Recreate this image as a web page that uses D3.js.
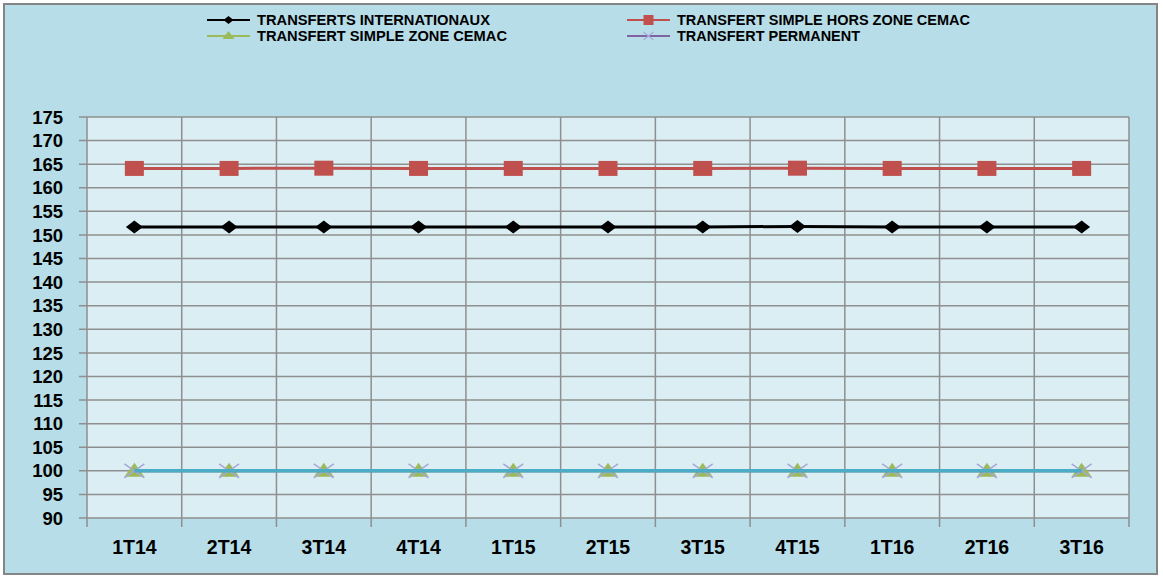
<!DOCTYPE html>
<html><head><meta charset="utf-8">
<script src="https://cdn.jsdelivr.net/npm/d3@7"></script>
<style>body{margin:0;background:#fff;} svg{display:block;font-family:"Liberation Sans",Arial,sans-serif;}</style>
</head><body>
<svg id="c" width="1163" height="577"></svg>
<script>
const categories = ["1T14","2T14","3T14","4T14","1T15","2T15","3T15","4T15","1T16","2T16","3T16"];
const transfertsInternationaux = [151.7,151.7,151.7,151.7,151.7,151.7,151.7,151.8,151.7,151.7,151.7];
const transfertSimpleHorsZone = [164.1,164.1,164.15,164.1,164.1,164.1,164.1,164.15,164.1,164.1,164.1];
const transfertSimpleZone = [100,100,100,100,100,100,100,100,100,100,100];
const transfertPermanent = [100,100,100,100,100,100,100,100,100,100,100];
const autreSerie = [100,100,100,100,100,100,100,100,100,100,100];
const yTicks = [90,95,100,105,110,115,120,125,130,135,140,145,150,155,160,165,170,175];
const legendLabels = ["TRANSFERTS INTERNATIONAUX","TRANSFERT SIMPLE HORS ZONE CEMAC","TRANSFERT SIMPLE ZONE CEMAC","TRANSFERT PERMANENT"];

const svg = d3.select("#c");
svg.append("rect").attr("x",4).attr("y",4).attr("width",1153).attr("height",570)
  .attr("fill","#b7dde8").attr("stroke","#858585").attr("stroke-width",2);

const L=87,R=1129,T=117,B=518;
const x = d3.scaleBand().domain(categories).range([L,R]);
const y = d3.scaleLinear().domain([90,175]).range([B,T]);

svg.append("rect").attr("x",L).attr("y",T).attr("width",R-L).attr("height",B-T).attr("fill","#dbeef4");

const g = svg.append("g");
g.selectAll(".hg").data(yTicks).join("line")
  .attr("x1",L-8).attr("x2",R).attr("y1",d=>y(d)).attr("y2",d=>y(d))
  .attr("stroke","#8f8f8f").attr("stroke-width",1.5);
const bounds = categories.map(c=>x(c)).concat([R]);
g.selectAll(".vg").data(bounds).join("line")
  .attr("x1",d=>d).attr("x2",d=>d).attr("y1",T).attr("y2",B+9)
  .attr("stroke","#8f8f8f").attr("stroke-width",1.5);

svg.selectAll(".yl").data(yTicks).join("text")
  .attr("x",63).attr("y",d=>y(d)).attr("dy","0.36em").attr("text-anchor","end")
  .attr("font-size",18.5).attr("font-weight","bold").attr("fill","#000").text(d=>d);
svg.selectAll(".xl").data(categories).join("text")
  .attr("x",d=>x(d)+x.bandwidth()/2).attr("y",554).attr("text-anchor","middle")
  .attr("font-size",19.5).attr("font-weight","bold").attr("fill","#000").text(d=>d);

const cx = (d,i)=>x(categories[i])+x.bandwidth()/2;
const line = d3.line().x((d,i)=>cx(d,i)).y(d=>y(d));
function drawLine(data,color,w){
  svg.append("path").datum(data).attr("d",line).attr("fill","none").attr("stroke",color).attr("stroke-width",w);
}
const triPath = "M0,-8L10,6L-10,6Z";
const xPath = "M-10,-7L10,7M-10,7L10,-7";

drawLine(transfertSimpleZone,"#9bbb59",3);
svg.selectAll(".tri").data(transfertSimpleZone).join("path")
  .attr("d",triPath)
  .attr("transform",(d,i)=>`translate(${cx(d,i)},${y(d)})`).attr("fill","#9bbb59");
drawLine(transfertPermanent,"#8064a2",3);
svg.selectAll(".xx").data(transfertPermanent).join("path")
  .attr("d",xPath)
  .attr("transform",(d,i)=>`translate(${cx(d,i)},${y(d)})`)
  .attr("fill","none").attr("stroke","#a9a7d6").attr("stroke-width",1.6);
drawLine(autreSerie,"#4bacc6",3.5);

drawLine(transfertSimpleHorsZone,"#c0504d",3);
svg.selectAll(".sq").data(transfertSimpleHorsZone).join("rect")
  .attr("x",(d,i)=>cx(d,i)-9.5).attr("y",d=>y(d)-7.5).attr("width",19).attr("height",15)
  .attr("fill","#c0504d");
drawLine(transfertsInternationaux,"#000",3);
svg.selectAll(".di").data(transfertsInternationaux).join("path")
  .attr("d","M-8.5,0L0,-6.5L8.5,0L0,6.5Z")
  .attr("transform",(d,i)=>`translate(${cx(d,i)},${y(d)})`).attr("fill","#000");

const leg = [
  {lab:legendLabels[0],col:"#000",x:207,y:20,m:"diamond",w:233},
  {lab:legendLabels[1],col:"#c0504d",x:627,y:20,m:"square",w:293},
  {lab:legendLabels[2],col:"#9bbb59",x:207,y:36,m:"tri",w:250},
  {lab:legendLabels[3],col:"#8064a2",x:627,y:36,m:"x",w:183}
];
leg.forEach(o=>{
  svg.append("line").attr("x1",o.x).attr("x2",o.x+43).attr("y1",o.y).attr("y2",o.y).attr("stroke",o.col).attr("stroke-width",2);
  const mx=o.x+21.5;
  if(o.m==="diamond") svg.append("path").attr("d","M-5,0L0,-4L5,0L0,4Z").attr("transform",`translate(${mx},${o.y})`).attr("fill","#000");
  if(o.m==="square") svg.append("rect").attr("x",mx-5).attr("y",o.y-5).attr("width",10).attr("height",10).attr("fill",o.col);
  if(o.m==="tri") svg.append("path").attr("d","M0,-5L6,3L-6,3Z").attr("transform",`translate(${mx},${o.y})`).attr("fill",o.col);
  if(o.m==="x") svg.append("path").attr("d","M-5,-4L5,4M-5,4L5,-4").attr("transform",`translate(${mx},${o.y})`).attr("fill","none").attr("stroke","#a9a7d6").attr("stroke-width",1.2);
  svg.append("text").attr("x",o.x+50).attr("y",o.y).attr("dy","0.36em")
    .attr("font-size",14).attr("font-weight","bold").attr("fill","#000")
    .attr("textLength",o.w).attr("lengthAdjust","spacingAndGlyphs").text(o.lab);
});
</script>
</body></html>
